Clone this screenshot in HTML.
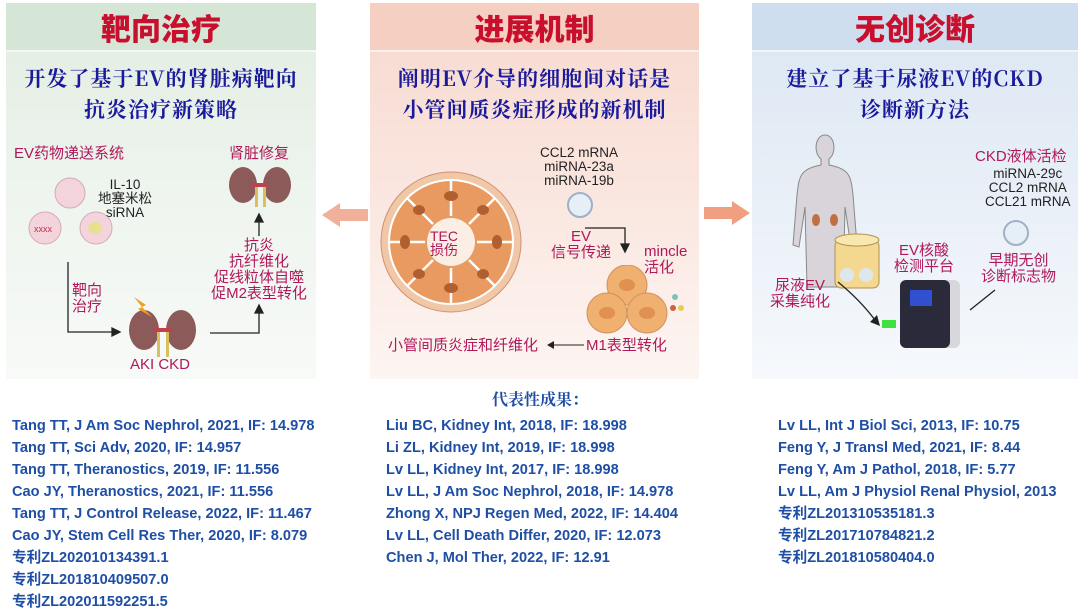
<!DOCTYPE html>
<html><head><meta charset="utf-8"><style>
*{margin:0;padding:0;box-sizing:border-box}
body{width:1080px;height:614px;background:#fff;position:relative;overflow:hidden;font-family:"Liberation Sans","Noto Sans CJK SC",sans-serif}
.a{position:absolute}
.panel{position:absolute;top:3px;height:376px}
.hd{position:absolute;left:0;right:0;top:0;height:49px;border-bottom:2px solid rgba(255,255,255,.7);text-align:center;font:900 30px/49px "Noto Sans CJK SC",sans-serif;color:#c8102e}
.sub{position:absolute;left:0;right:0;top:60px;text-align:center;font:bold 21px/31px "Noto Serif CJK SC",serif;color:#1a1a9c;letter-spacing:1px}
.pk{color:#b0185a;font-size:15px;line-height:16px;text-align:center}
.bk{color:#222;font-size:13.5px;line-height:14px;text-align:center}
.ref{position:absolute;font-weight:bold;font-size:14.6px;line-height:22px;color:#1f4fa5;white-space:nowrap}
</style></head><body>

<div class="panel" style="left:6px;width:310px;background:linear-gradient(#e2ede2,#eef4ee 50%,#f8faf8)">
<div class="hd" style="background:#d6e6d6">靶向治疗</div>
<div class="sub">开发了基于EV的肾脏病靶向<br>抗炎治疗新策略</div>
</div>
<div class="panel" style="left:370px;width:329px;background:linear-gradient(#f7d9cf,#fae6df 50%,#fdf5f2)">
<div class="hd" style="background:#f4cfc2">进展机制</div>
<div class="sub">阐明EV介导的细胞间对话是<br>小管间质炎症形成的新机制</div>
</div>
<div class="panel" style="left:752px;width:326px;background:linear-gradient(#dbe6f2,#e8eff7 50%,#f6f9fc)">
<div class="hd" style="background:#cfdeee">无创诊断</div>
<div class="sub">建立了基于尿液EV的CKD<br>诊断新方法</div>
</div>

<svg class="a" style="left:320px;top:200px" width="50" height="30"><polygon points="2,15 20,3 20,9 48,9 48,21 20,21 20,27" fill="#f0b09a"/></svg>
<svg class="a" style="left:702px;top:198px" width="50" height="30"><polygon points="48,15 30,3 30,9 2,9 2,21 30,21 30,27" fill="#f0a080"/></svg>

<!-- left graphics -->
<div class="a pk" style="left:14px;top:146px">EV药物递送系统</div>
<div class="a bk" style="left:98px;top:178px">IL-10<br>地塞米松<br>siRNA</div>
<svg class="a" style="left:25px;top:175px" width="95" height="80">
<circle cx="45" cy="18" r="15" fill="#f4d4dc" stroke="#d8a8b4"/>
<circle cx="20" cy="53" r="16" fill="#f4d4dc" stroke="#d8a8b4"/>
<circle cx="71" cy="53" r="16" fill="#f4d4dc" stroke="#d8a8b4"/>
<text x="9" y="57" font-size="9" fill="#c03040">xxxx</text>
<ellipse cx="70" cy="53" rx="7" ry="6" fill="#e8e090"/>
</svg>
<div class="a pk" style="left:229px;top:146px">肾脏修复</div>
<svg class="a" style="left:226px;top:165px" width="70" height="45">
<ellipse cx="17" cy="20" rx="14" ry="18" fill="#8c5a58"/><ellipse cx="51" cy="20" rx="14" ry="18" fill="#8c5a58"/>
<rect x="26" y="18" width="16" height="4" fill="#c04050"/><rect x="29" y="22" width="3" height="20" fill="#d8c060"/><rect x="37" y="22" width="3" height="20" fill="#d8c060"/>
</svg>
<div class="a pk" style="left:203px;top:238px;width:112px">抗炎<br>抗纤维化<br>促线粒体自噬<br>促M2表型转化</div>
<div class="a pk" style="left:72px;top:283px;text-align:left">靶向<br>治疗</div>
<svg class="a" style="left:60px;top:200px" width="230" height="150" fill="none" stroke="#222" stroke-width="1.3">
<path d="M8,62 V132 H55"/><polygon points="60,132 52,128 52,136" fill="#222"/>
<path d="M150,133 H199 V112"/><polygon points="199,105 195,113 203,113" fill="#222"/>
<path d="M199,36 V20"/><polygon points="199,14 195,22 203,22" fill="#222"/>
</svg>
<svg class="a" style="left:126px;top:295px" width="74" height="64">
<ellipse cx="18" cy="35" rx="15" ry="20" fill="#8c5a58"/><ellipse cx="55" cy="35" rx="15" ry="20" fill="#8c5a58"/>
<rect x="28" y="33" width="18" height="4" fill="#c04050"/><rect x="31" y="37" width="3" height="25" fill="#d8c060"/><rect x="40" y="37" width="3" height="25" fill="#d8c060"/>
<polygon points="8,2 20,10 16,12 26,22 12,14 16,12" fill="#f0a020"/>
</svg>
<div class="a pk" style="left:130px;top:357px">AKI CKD</div>

<!-- middle graphics -->
<svg class="a" style="left:380px;top:170px" width="142" height="145">
<circle cx="71" cy="72" r="70" fill="#f0c8a8" stroke="#d09070"/>
<circle cx="71" cy="72" r="62" fill="#e89a60" stroke="#fff" stroke-width="2"/>
<g stroke="#fff" stroke-width="2.5">
<line x1="71" y1="10" x2="71" y2="46"/><line x1="71" y1="98" x2="71" y2="134"/><line x1="9" y1="72" x2="45" y2="72"/><line x1="97" y1="72" x2="133" y2="72"/>
<line x1="27" y1="28" x2="53" y2="54"/><line x1="115" y1="28" x2="89" y2="54"/><line x1="27" y1="116" x2="53" y2="90"/><line x1="115" y1="116" x2="89" y2="90"/></g>
<circle cx="71" cy="72" r="24" fill="#fbeee4"/>
<g fill="#b06030"><ellipse cx="71" cy="26" rx="7" ry="5"/><ellipse cx="71" cy="118" rx="7" ry="5"/><ellipse cx="25" cy="72" rx="5" ry="7"/><ellipse cx="117" cy="72" rx="5" ry="7"/><ellipse cx="39" cy="40" rx="6" ry="5"/><ellipse cx="103" cy="40" rx="6" ry="5"/><ellipse cx="39" cy="104" rx="6" ry="5"/><ellipse cx="103" cy="104" rx="6" ry="5"/></g>
</svg>
<div class="a pk" style="left:430px;top:229px;font-size:14px;line-height:14px">TEC<br>损伤</div>
<div class="a bk" style="left:540px;top:146px">CCL2 mRNA<br>miRNA-23a<br>miRNA-19b</div>
<svg class="a" style="left:565px;top:190px" width="30" height="30"><circle cx="15" cy="15" r="12" fill="#e6eef6" stroke="#a0b0c8" stroke-width="2"/></svg>
<div class="a pk" style="left:551px;top:229px">EV<br>信号传递</div>
<svg class="a" style="left:555px;top:218px" width="80" height="40" fill="none" stroke="#222" stroke-width="1.3"><path d="M30,10 H70 V28"/><polygon points="70,34 66,26 74,26" fill="#222"/></svg>
<div class="a pk" style="left:644px;top:244px;text-align:left">mincle<br>活化</div>
<svg class="a" style="left:585px;top:265px" width="100" height="75">
<g fill="#f0b070" stroke="#d09060"><circle cx="42" cy="20" r="20"/><circle cx="22" cy="48" r="20"/><circle cx="62" cy="48" r="20"/></g>
<g fill="#e09050"><ellipse cx="42" cy="20" rx="8" ry="6"/><ellipse cx="22" cy="48" rx="8" ry="6"/><ellipse cx="62" cy="48" rx="8" ry="6"/></g>
<circle cx="90" cy="32" r="3" fill="#80c0c0"/><circle cx="88" cy="43" r="3" fill="#d06040"/><circle cx="96" cy="43" r="3" fill="#e0d050"/>
</svg>
<div class="a pk" style="left:388px;top:338px">小管间质炎症和纤维化</div>
<svg class="a" style="left:546px;top:338px" width="40" height="14"><line x1="6" y1="7" x2="38" y2="7" stroke="#222"/><polygon points="1,7 8,3 8,11" fill="#222"/></svg>
<div class="a pk" style="left:586px;top:338px">M1表型转化</div>

<!-- right graphics -->
<svg class="a" style="left:770px;top:130px" width="120" height="180">
<path d="M55,5 c10,0 12,18 4,24 l0,6 c20,4 22,10 24,30 l4,50 -6,2 -6,-40 -2,80 -36,0 -2,-80 -6,40 -6,-2 4,-50 c2,-20 4,-26 24,-30 l0,-6 c-8,-6 -6,-24 4,-24z" fill="#d8d4da" stroke="#888"/>
<ellipse cx="46" cy="90" rx="4" ry="6" fill="#c07040"/><ellipse cx="64" cy="90" rx="4" ry="6" fill="#c07040"/>
<rect x="65" y="110" width="44" height="48" rx="6" fill="#f4d890" stroke="#b09050"/>
<ellipse cx="87" cy="110" rx="22" ry="6" fill="#f8e8b0" stroke="#b09050"/>
<circle cx="77" cy="145" r="7" fill="#dde8ee"/><circle cx="96" cy="145" r="7" fill="#dde8ee"/>
</svg>
<div class="a pk" style="left:770px;top:278px">尿液EV<br>采集纯化</div>
<div class="a pk" style="left:894px;top:243px">EV核酸<br>检测平台</div>
<svg class="a" style="left:830px;top:270px" width="170" height="90">
<path d="M8,12 Q30,30 45,50" fill="none" stroke="#222" stroke-width="1.3"/><polygon points="50,56 40,52 47,45" fill="#222"/>
<rect x="70" y="10" width="60" height="68" rx="6" fill="#d8d8dc"/><rect x="70" y="10" width="50" height="68" rx="6" fill="#2a2a3a"/>
<rect x="80" y="20" width="22" height="16" fill="#3050d0"/>
<rect x="52" y="50" width="14" height="8" fill="#40e040"/>
<path d="M140,40 Q155,28 165,20" fill="none" stroke="#222" stroke-width="1.3"/>
</svg>
<div class="a pk" style="left:975px;top:149px">CKD液体活检</div>
<div class="a bk" style="left:985px;top:167px">miRNA-29c<br>CCL2 mRNA<br>CCL21 mRNA</div>
<svg class="a" style="left:1001px;top:218px" width="30" height="30"><circle cx="15" cy="15" r="12" fill="#e6eef6" stroke="#a0b0c8" stroke-width="2"/></svg>
<div class="a pk" style="left:981px;top:253px">早期无创<br>诊断标志物</div>

<div class="a" style="left:492px;top:387px;font:bold 16px 'Noto Serif CJK SC',serif;color:#1f4fa5">代表性成果：</div>
<div class="ref" style="left:12px;top:415px">Tang TT, J Am Soc Nephrol, 2021, IF: 14.978<br>Tang TT, Sci Adv, 2020, IF: 14.957<br>Tang TT, Theranostics, 2019, IF: 11.556<br>Cao JY, Theranostics, 2021, IF: 11.556<br>Tang TT, J Control Release, 2022, IF: 11.467<br>Cao JY, Stem Cell Res Ther, 2020, IF: 8.079<br>专利ZL202010134391.1<br>专利ZL201810409507.0<br>专利ZL202011592251.5</div>
<div class="ref" style="left:386px;top:415px">Liu BC, Kidney Int, 2018, IF: 18.998<br>Li ZL, Kidney Int, 2019, IF: 18.998<br>Lv LL, Kidney Int, 2017, IF: 18.998<br>Lv LL, J Am Soc Nephrol, 2018, IF: 14.978<br>Zhong X, NPJ Regen Med, 2022, IF: 14.404<br>Lv LL, Cell Death Differ, 2020, IF: 12.073<br>Chen J, Mol Ther, 2022, IF: 12.91</div>
<div class="ref" style="left:778px;top:415px">Lv LL, Int J Biol Sci, 2013, IF: 10.75<br>Feng Y, J Transl Med, 2021, IF: 8.44<br>Feng Y, Am J Pathol, 2018, IF: 5.77<br>Lv LL, Am J Physiol Renal Physiol, 2013<br>专利ZL201310535181.3<br>专利ZL201710784821.2<br>专利ZL201810580404.0</div>
</body></html>
